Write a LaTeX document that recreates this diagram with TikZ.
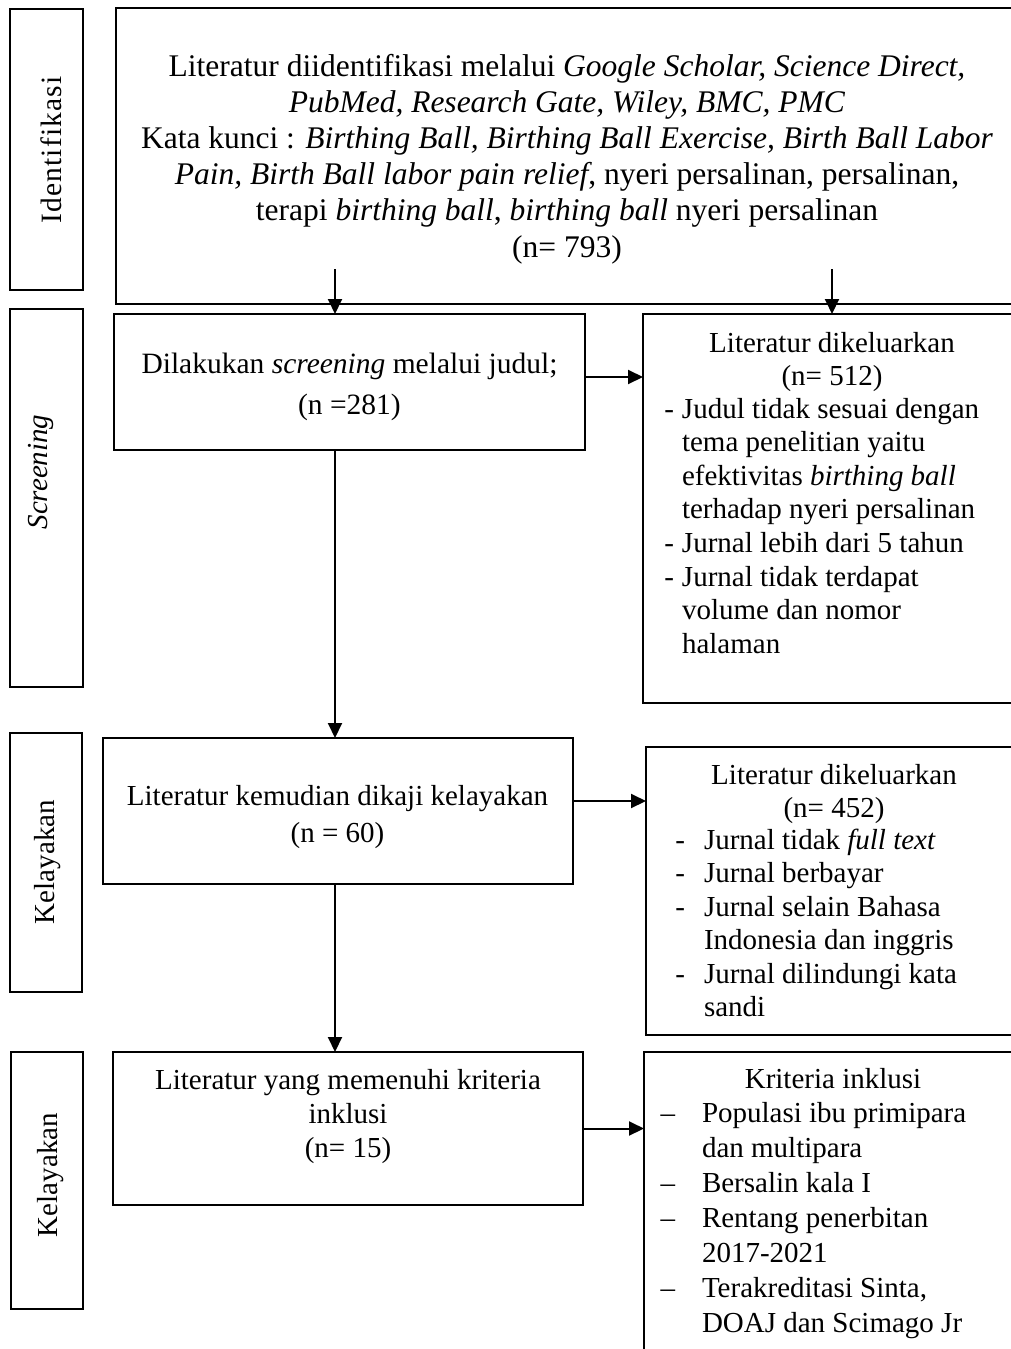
\documentclass[tikz,border=0pt]{standalone}
\usepackage{fontspec}
\setmainfont{Liberation Serif}
\usetikzlibrary{arrows.meta}
\begin{document}
\begin{tikzpicture}[x=1pt,y=-1pt,
  box/.style={draw=black, line width=1.1pt, rectangle, inner sep=0pt, outer sep=0pt},
  arr/.style={line width=2pt, -{Triangle[length=15pt,width=14pt]}},
  txt/.style={inner sep=0pt, outer sep=0pt, font=\fontsize{29}{33.5}\selectfont},
  side/.style={txt, rotate=90}]
\useasboundingbox (0,0) rectangle (1011,1349);
\fill[white] (0,0) rectangle (1011,1349);
\clip (0,0) rectangle (1011,1349);

% side boxes
\node[box, minimum width=73pt, minimum height=281pt] (sA) at (46.5,149.5) {};
\node[box, minimum width=73pt, minimum height=378pt] (sB) at (46.5,498) {};
\node[box, minimum width=72pt, minimum height=259pt] (sC) at (46,862.5) {};
\node[box, minimum width=72pt, minimum height=257pt] (sD) at (47,1180.5) {};

\node[side, font=\fontsize{29.5}{33}\selectfont\addfontfeature{LetterSpace=4}] (lA) at (51,150) {Identifikasi};
\node[side] (lB) at (40.5,472) {\textit{Screening}};
\node[side] (lC) at (47.5,862) {Kelayakan};
\node[side] (lD) at (50.5,1175) {Kelayakan};

% main boxes
\node[box, minimum width=909pt, minimum height=296pt] (top) at (570.5,156) {};
\node[box, minimum width=471pt, minimum height=136pt] (scr) at (349.5,382) {};
\node[box, minimum width=382pt, minimum height=389pt] (ex1) at (834,508.5) {};
\node[box, minimum width=470pt, minimum height=146pt] (kel) at (338,811) {};
\node[box, minimum width=379pt, minimum height=288pt] (ex2) at (835.5,891) {};
\node[box, minimum width=470pt, minimum height=153pt] (inc) at (348,1128.5) {};
\node[box, minimum width=381pt, minimum height=318pt] (ex3) at (834.5,1211) {};

% texts
\node[txt, align=center, anchor=north, font=\fontsize{31.5}{36.2}\selectfont] (ttop) at (567,54)
 {Literatur diidentifikasi melalui \textit{Google Scholar, Science Direct,}\\
  \textit{PubMed, Research Gate, Wiley, BMC, PMC}\\
  Kata kunci : \textit{Birthing Ball, Birthing Ball Exercise, Birth Ball Labor}\\
  \textit{Pain, Birth Ball labor pain relief}, nyeri persalinan, persalinan,\\
  terapi \textit{birthing ball}, \textit{birthing ball} nyeri persalinan\\
  (n= 793)};

\node[txt, align=center, anchor=north, font=\fontsize{29.5}{41}\selectfont] (tscr) at (349.5,353)
 {Dilakukan \textit{screening} melalui judul;\\ (n =281)};

\node[txt, align=center, anchor=north, font=\fontsize{29}{33}\selectfont] (hex1) at (832,332)
 {Literatur dikeluarkan\\ (n= 512)};
\node[txt, align=left, anchor=north west, font=\fontsize{29}{33.6}\selectfont] (lex1) at (682,398)
 {\llap{-\hspace{8pt}}Judul tidak sesuai dengan\\
  tema penelitian yaitu\\
  efektivitas \textit{birthing ball}\\
  terhadap nyeri persalinan\\
  \llap{-\hspace{8pt}}Jurnal lebih dari 5 tahun\\
  \llap{-\hspace{8pt}}Jurnal tidak terdapat\\
  volume dan nomor\\
  halaman};

\node[txt, align=center, anchor=north, font=\fontsize{29}{37}\selectfont] (tkel) at (337.5,785)
 {Literatur kemudian dikaji kelayakan\\ (n = 60)};

\node[txt, align=center, anchor=north, font=\fontsize{29}{33}\selectfont] (hex2) at (834,764)
 {Literatur dikeluarkan\\ (n= 452)};
\node[txt, align=left, anchor=north west, font=\fontsize{29}{33.4}\selectfont] (lex2) at (704,829)
 {\llap{-\hspace{19pt}}Jurnal tidak \textit{full text}\\
  \llap{-\hspace{19pt}}Jurnal berbayar\\
  \llap{-\hspace{19pt}}Jurnal selain Bahasa\\
  Indonesia dan inggris\\
  \llap{-\hspace{19pt}}Jurnal dilindungi kata\\
  sandi};

\node[txt, align=center, anchor=north, font=\fontsize{29}{34}\selectfont] (tinc) at (348,1069)
 {Literatur yang memenuhi kriteria\\ inklusi\\ (n= 15)};

\node[txt, anchor=north] (hex3) at (833,1068) {Kriteria inklusi};
\node[txt, align=left, anchor=north west, font=\fontsize{29}{35}\selectfont] (lex3) at (702,1102)
 {\llap{–\hspace{27pt}}Populasi ibu primipara\\
  dan multipara\\
  \llap{–\hspace{27pt}}Bersalin kala I\\
  \llap{–\hspace{27pt}}Rentang penerbitan\\
  2017-2021\\
  \llap{–\hspace{27pt}}Terakreditasi Sinta,\\
  DOAJ dan Scimago Jr};

% connectors
\coordinate (s1) at (335,269);
\coordinate (s2) at (832,269);
\coordinate (vx) at (335,0);
\draw[arr] (s1) -- (s1 |- scr.north);
\draw[arr] (s2) -- (s2 |- ex1.north);
\draw[arr] (scr.south -| vx) -- (kel.north -| vx);
\draw[arr] (kel.south -| vx) -- (inc.north -| vx);
\draw[arr] ([yshift=5pt]scr.east) -- ([yshift=5pt]scr.east -| ex1.west);
\draw[arr] ([yshift=10pt]kel.east) -- ([yshift=10pt]kel.east -| ex2.west);
\draw[arr] (inc.east) -- (inc.east -| ex3.west);
\end{tikzpicture}
\end{document}
